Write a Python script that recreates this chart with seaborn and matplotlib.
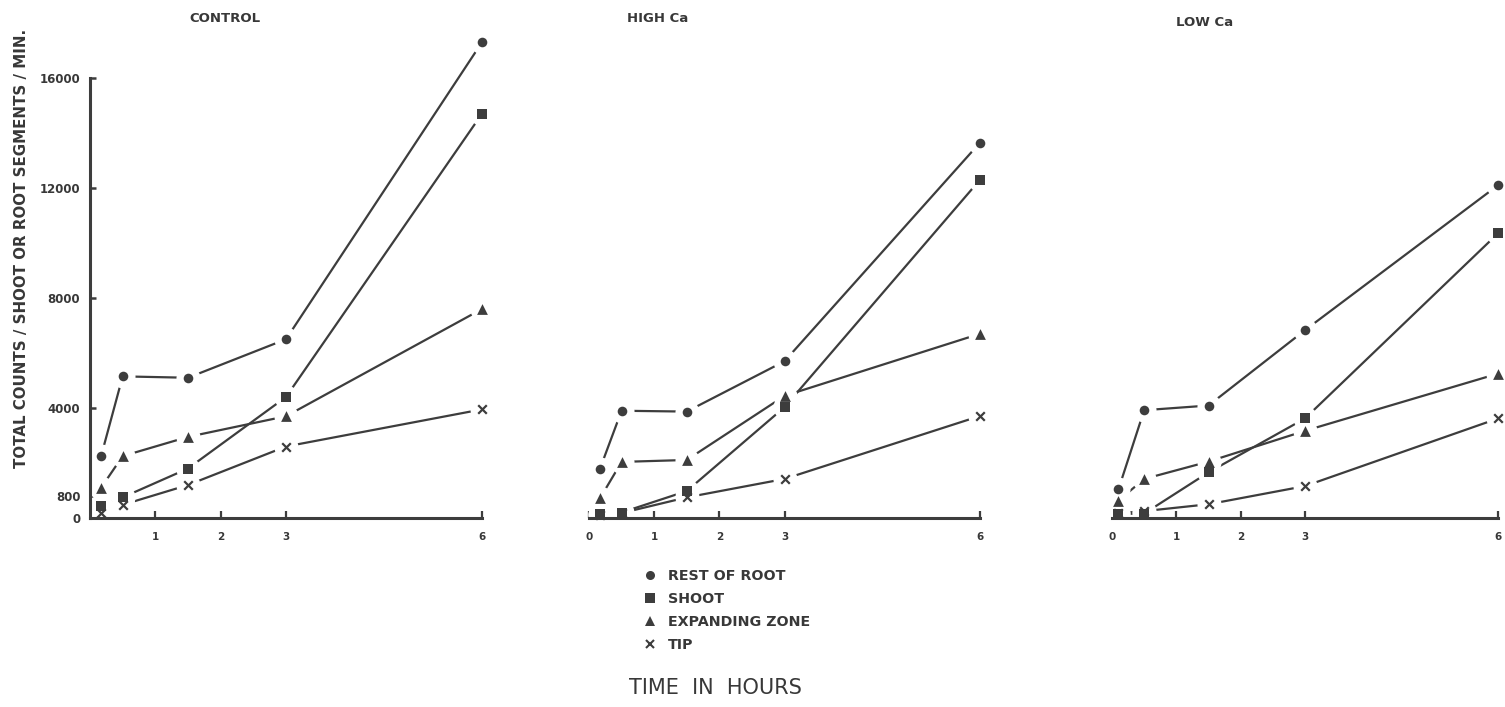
import numpy as np
import pandas as pd
import matplotlib
matplotlib.use("Agg")
import matplotlib.pyplot as plt
from matplotlib.lines import Line2D
import seaborn as sns

# ---------------- data ----------------
panels = ["CONTROL", "HIGH Ca", "LOW Ca"]
series = ["REST OF ROOT", "SHOOT", "EXPANDING ZONE", "TIP"]

time_control = [0.17, 0.5, 1.5, 3, 6]
time_high = [0.17, 0.5, 1.5, 3, 6]
time_low = [0.1, 0.5, 1.5, 3, 6]

control_rest = [2250, 5150, 5100, 6500, 17300]
control_shoot = [420, 750, 1800, 4400, 14700]
control_expanding = [1100, 2250, 2950, 3700, 7600]
control_tip = [170, 480, 1200, 2600, 3950]

high_rest = [1800, 3900, 3870, 5700, 13650]
high_shoot = [150, 200, 980, 4030, 12300]
high_expanding = [720, 2040, 2110, 4440, 6700]
high_tip = [100, 180, 750, 1420, 3710]

low_rest = [1040, 3920, 4090, 6830, 12100]
low_shoot = [150, 160, 1660, 3620, 10350]
low_expanding = [630, 1420, 2050, 3170, 5250]
low_tip = [170, 250, 500, 1160, 3620]

y_ticks = [0, 800, 4000, 8000, 12000, 16000]
y_tick_labels = ["0", "800", "4000", "8000", "12000", "16000"]
x_ticks_control = [1, 2, 3, 6]
x_ticks_other = [0, 1, 2, 3, 6]

panel_times = {"CONTROL": time_control, "HIGH Ca": time_high, "LOW Ca": time_low}
panel_values = {
    "CONTROL": [control_rest, control_shoot, control_expanding, control_tip],
    "HIGH Ca": [high_rest, high_shoot, high_expanding, high_tip],
    "LOW Ca": [low_rest, low_shoot, low_expanding, low_tip],
}

rows = []
for p in panels:
    for s, vals in zip(series, panel_values[p]):
        for t, v in zip(panel_times[p], vals):
            rows.append({"panel": p, "series": s, "time": t, "value": v})
df = pd.DataFrame(rows)

# ---------------- style ----------------
sns.set_theme(style="white")
plt.rcParams["font.family"] = ["DejaVu Sans"]
INK = "#3d3d3d"
TXT = "#383838"
markers = {"REST OF ROOT": "o", "SHOOT": "s", "EXPANDING ZONE": "^"}
msize = {"REST OF ROOT": 48, "SHOOT": 52, "EXPANDING ZONE": 60}

W, H = 1505, 707
fig = plt.figure(figsize=(W / 100, H / 100), dpi=100)

# pixel positions of x=0 and x=6 for each panel, y axis baseline
panel_px = {"CONTROL": (90, 482), "HIGH Ca": (589, 980), "LOW Ca": (1112, 1498)}
base_px = 518
px_per_k = 27.5
ymax = 17600
xmax = 6.05

title_pos = {"CONTROL": (225, 18), "HIGH Ca": (658, 19), "LOW Ca": (1205, 22)}

for p in panels:
    a, b = panel_px[p]
    left = a / W
    width = (b - a) / 6 * xmax / W
    bottom = 1 - base_px / H
    height = ymax / 1000 * px_per_k / H
    ax = fig.add_axes([left, bottom, width, height])
    sub = df[df["panel"] == p]

    sns.lineplot(data=sub, x="time", y="value", hue="series",
                 palette=[INK] * 4, estimator=None, sort=False,
                 legend=False, linewidth=1.6, ax=ax, zorder=2)
    # white halo around each point (hand-drawn gaps)
    sns.scatterplot(data=sub, x="time", y="value", color="white", marker="o",
                    s=300, linewidth=0, legend=False, ax=ax, zorder=3,
                    clip_on=False)
    filled = sub[sub["series"] != "TIP"]
    for s in ["REST OF ROOT", "SHOOT", "EXPANDING ZONE"]:
        ss = filled[filled["series"] == s]
        sns.scatterplot(data=ss, x="time", y="value", color=INK,
                        marker=markers[s], s=msize[s], linewidth=0,
                        legend=False, ax=ax, zorder=5, clip_on=False)
    tip = sub[sub["series"] == "TIP"]
    sns.scatterplot(data=tip, x="time", y="value", color=INK, marker="x",
                    s=38, linewidth=1.6, legend=False, ax=ax, zorder=5,
                    clip_on=False)

    ax.set_xlim(0, xmax)
    ax.set_ylim(0, ymax)
    ax.set_xlabel("")
    ax.set_ylabel("")
    for sp in ["top", "right"]:
        ax.spines[sp].set_visible(False)
    ax.spines["bottom"].set_bounds(0, 6)
    ax.spines["bottom"].set_linewidth(2.2)
    ax.spines["bottom"].set_color(INK)
    ax.spines["bottom"].set_zorder(4)

    if p == "CONTROL":
        ax.set_xticks(x_ticks_control)
        ax.set_xticklabels([str(t) for t in x_ticks_control])
        ax.spines["left"].set_bounds(0, 16000)
        ax.spines["left"].set_linewidth(2.2)
        ax.spines["left"].set_color(INK)
        ax.spines["left"].set_zorder(4)
        ax.set_yticks(y_ticks)
        ax.set_yticklabels(y_tick_labels)
        ax.tick_params(axis="y", direction="in", length=4, width=1.8,
                       color=INK, pad=7, labelsize=8.5, labelcolor=TXT,
                       left=True)
        for lab in ax.get_yticklabels():
            lab.set_fontweight("bold")
    else:
        ax.spines["left"].set_visible(False)
        ax.set_xticks(x_ticks_other)
        ax.set_xticklabels([str(t) for t in x_ticks_other])
        ax.set_yticks([])
    ax.tick_params(axis="x", direction="in", length=5, width=1.6, color=INK,
                   pad=10, labelsize=7.5, labelcolor=TXT, bottom=True)
    for lab in ax.get_xticklabels():
        lab.set_fontweight("bold")
    ax.patch.set_alpha(0)

    tx, ty = title_pos[p]
    fig.text(tx / W, 1 - ty / H, p, ha="center", va="center",
             fontsize=9.5, fontweight="bold", color=TXT)

# y label
fig.text(22 / W, 1 - 248 / H, "TOTAL COUNTS / SHOOT OR ROOT SEGMENTS / MIN.",
         rotation=90, ha="center", va="center", fontsize=10.8,
         fontweight="bold", color=TXT)

# legend
handles = [
    Line2D([], [], ls="none", marker="o", color=INK, ms=6.5, mew=0),
    Line2D([], [], ls="none", marker="s", color=INK, ms=6.5, mew=0),
    Line2D([], [], ls="none", marker="^", color=INK, ms=7, mew=0),
    Line2D([], [], ls="none", marker="x", color=INK, ms=6, mew=1.5),
]
leg = fig.legend(handles, series, loc="upper left",
                 bbox_to_anchor=(644 / W, 1 - 569 / H), frameon=False,
                 handlelength=0.8, handletextpad=0.9, labelspacing=0.62,
                 borderpad=0, borderaxespad=0,
                 prop={"weight": "bold", "size": 10.3})
for t in leg.get_texts():
    t.set_color(TXT)

fig.text(715 / W, 1 - 688 / H, "TIME  IN  HOURS", ha="center", va="center",
         fontsize=15, color=TXT)

fig.savefig("out.png", dpi=100, facecolor="white")
